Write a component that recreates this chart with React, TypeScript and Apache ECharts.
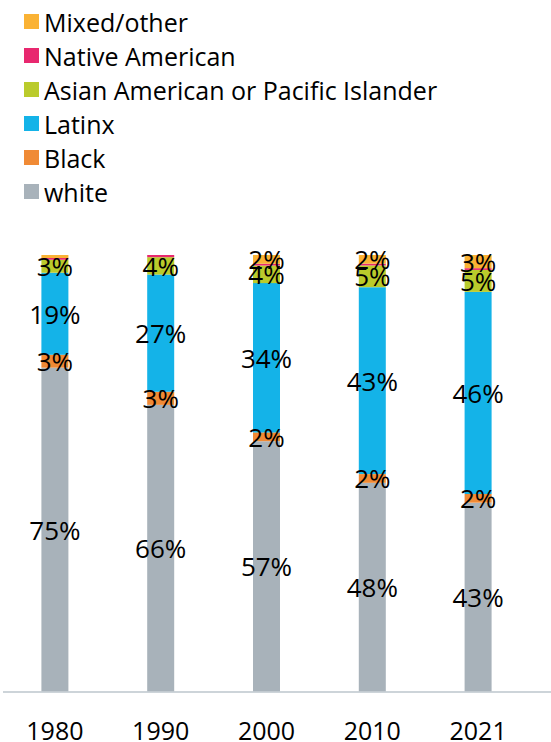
import React, { useEffect, useRef } from "react";
import * as echarts from "echarts";

const years = ["1980", "1990", "2000", "2010", "2021"];
const white = [75, 66, 57, 48, 43];
const black = [3, 3, 2, 2, 2];
const latinx = [19, 27, 34, 43, 46];
const asian = [3, 4, 4, 5, 5];
const native = [0.4, 0.5, 0.4, 0.4, 0.4];
const mixed = [0.7, 0, 2, 2, 3];

const seriesDefs = [
  { name: "white", data: white, color: "#A8B2BA", labelled: true },
  { name: "Black", data: black, color: "#F08A35", labelled: true },
  { name: "Latinx", data: latinx, color: "#14B3E8", labelled: true },
  { name: "Asian American or Pacific Islander", data: asian, color: "#BACB2C", labelled: true },
  { name: "Native American", data: native, color: "#E8286F", labelled: false },
  { name: "Mixed/other", data: mixed, color: "#FAB234", labelled: true },
];

const FONT = "'Open Sans', 'Noto Sans', sans-serif";

export default function App() {
  const ref = useRef<HTMLDivElement>(null);
  useEffect(() => {
    if (!ref.current) return;
    const chart = echarts.init(ref.current, undefined, { renderer: "svg" });
    const totals = years.map((_, i) =>
      seriesDefs.reduce((s, d) => s + d.data[i], 0)
    );
    const gridTop = 255;
    const gridBottom = 50;
    const axisY = 742 - gridBottom;
    chart.setOption({
      animation: false,
      legend: {
        orient: "vertical",
        left: 19,
        top: 4,
        itemWidth: 15,
        itemHeight: 15,
        itemGap: 9,
        icon: "rect",
        data: [
          "Mixed/other",
          "Native American",
          "Asian American or Pacific Islander",
          "Latinx",
          "Black",
          "white",
        ],
        textStyle: {
          fontFamily: FONT,
          fontSize: 25,
          lineHeight: 23.8,
          color: "#000",
          padding: [0, 0, 0, 0],
        },
        selectedMode: false,
      },
      grid: { left: 2, right: 20, top: gridTop, bottom: gridBottom },
      xAxis: {
        type: "category",
        data: years,
        axisLine: { show: false },
        axisTick: { show: false },
        axisLabel: {
          fontFamily: FONT,
          fontSize: 25,
          lineHeight: 20,
          color: "#000",
          margin: 28,
        },
      },
      yAxis: {
        type: "value",
        min: 0,
        max: 100,
        show: false,
        splitLine: { show: false },
      },
      graphic: [
        {
          type: "line",
          shape: { x1: 3, y1: axisY, x2: 551, y2: axisY },
          style: { stroke: "#BCC6CD", lineWidth: 1.5 },
          z: 10,
        },
      ],
      series: seriesDefs.map((d) => ({
        name: d.name,
        type: "bar",
        stack: "total",
        barWidth: 27,
        itemStyle: { color: d.color },
        data: d.data.map((v, i) => (v / totals[i]) * 100),
        label: {
          show: d.labelled,
          position: "inside",
          fontFamily: FONT,
          fontSize: 26,
          color: "#000",
          formatter: (p: any) => {
            const raw = d.data[p.dataIndex];
            return raw >= 1 ? `${raw}%` : "";
          },
        },
      })),
    });
    return () => chart.dispose();
  }, []);
  return (
    <div
      ref={ref}
      style={{ position: "fixed", left: 0, top: 0, width: 551, height: 742, background: "#fff" }}
    />
  );
}
